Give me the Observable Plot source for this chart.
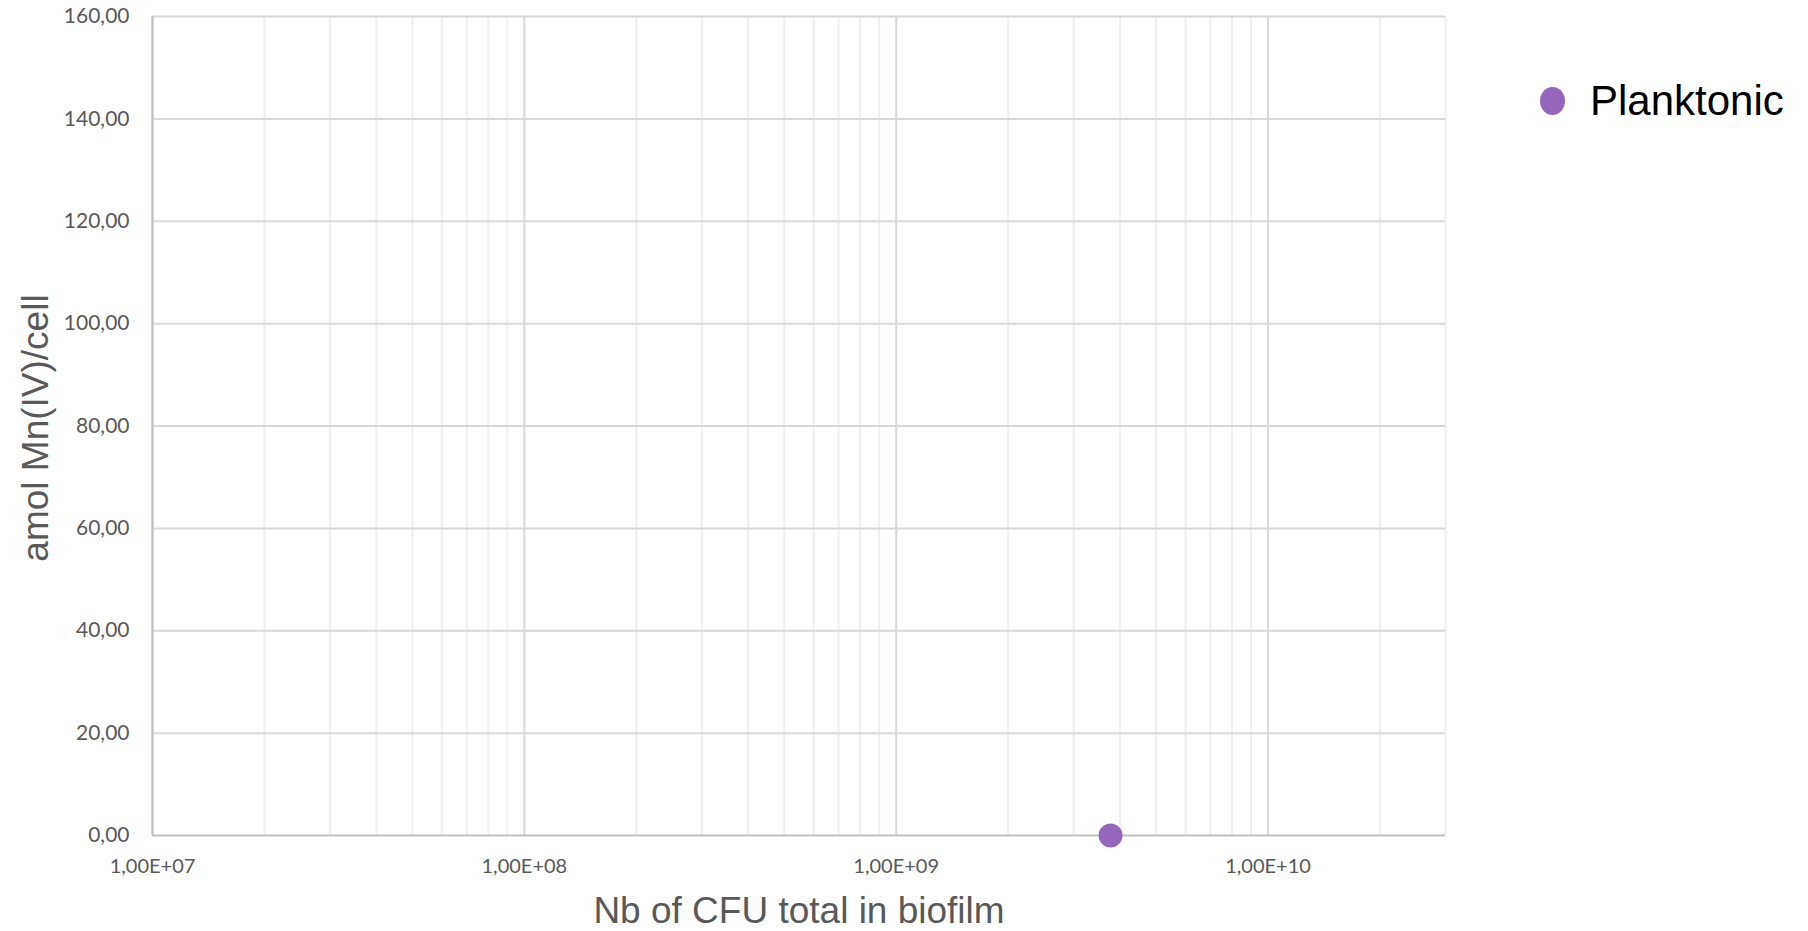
<!DOCTYPE html>
<html>
<head>
<meta charset="utf-8">
<script src="https://cdn.jsdelivr.net/npm/d3@7"></script>
<script src="https://cdn.jsdelivr.net/npm/@observablehq/plot@0.6"></script>
<style>
  body { margin: 0; background: #fff; }
  #chart { position: relative; width: 1808px; height: 931px; overflow: hidden; }
  #legend { position: absolute; left: 1540px; top: 80px; font-family: "Liberation Sans", Arial, sans-serif; font-size: 42px; line-height: 42px; color: #000; }
  #legend .swatch { position: absolute; left: 0; top: 7px; width: 25px; height: 28px; border-radius: 50%; background: #9467bd; }
  #legend .name { position: absolute; left: 50px; top: 0; white-space: nowrap; }
</style>
</head>
<body>
<div id="chart"></div>
<script>
// Axis set-up
const xDomain = [1e7, 3e10];
const yDomain = [0, 160];
const xDecadeTicks = [1e7, 1e8, 1e9, 1e10];
const yTicks = [0, 20, 40, 60, 80, 100, 120, 140, 160];
const xTitle = "Nb of CFU total in biofilm";
const yTitle = "amol Mn(IV)/cell";

// Series
const seriesName = "Planktonic";
const seriesColor = "#9467bd";
const cfuTotal = [3.77e9];
const mnPerCell = [0];

const points = cfuTotal.map((x, i) => ({x, y: mnPerCell[i]}));

// Minor log gridlines: 2..9 within each decade, up to the end of the domain
const xMinorTicks = xDecadeTicks
  .flatMap(d => [2, 3, 4, 5, 6, 7, 8, 9].map(k => k * d))
  .filter(v => v <= xDomain[1]);

// Comma decimal formats, e.g. "120,00" and "1,00E+08"
const fmtY = d => d3.format(".2f")(d).replace(".", ",");
const fmtX = d => {
  const [m, e] = d3.format(".2e")(d).split("e");
  const sign = e[0] === "-" ? "-" : "+";
  return m.replace(".", ",") + "E" + sign + e.replace(/^[+-]/, "").padStart(2, "0");
};

const grey = "#595959";

const chart = Plot.plot({
  width: 1808,
  height: 931,
  marginLeft: 152,
  marginRight: 363,
  marginTop: 16,
  marginBottom: 96,
  style: {background: "#fff", fontFamily: "Lato, sans-serif", overflow: "visible"},
  x: {type: "log", domain: xDomain},
  y: {domain: yDomain},
  marks: [
    Plot.ruleX(xMinorTicks, {stroke: "#efefef", strokeWidth: 2}),
    Plot.ruleX(xDecadeTicks, {stroke: "#d9d9d9", strokeWidth: 2}),
    Plot.ruleY(yTicks.filter(d => d > 0), {stroke: "#d9d9d9", strokeWidth: 2}),
    Plot.ruleX([xDomain[0]], {stroke: "#bfbfbf", strokeWidth: 2}),
    Plot.ruleY([0], {stroke: "#bfbfbf", strokeWidth: 2}),
    Plot.axisX({ticks: xDecadeTicks, tickSize: 0, tickPadding: 23, tickFormat: fmtX,
                fontSize: 20, fill: grey, label: null}),
    Plot.axisY({ticks: yTicks, tickSize: 0, tickPadding: 23, tickFormat: fmtY,
                fontSize: 21, fill: grey, label: null}),
    Plot.text([xTitle], {frameAnchor: "bottom", textAnchor: "middle", lineAnchor: "top", dy: 61,
                         fontSize: 37, fill: grey, fontFamily: "Liberation Sans, Arial, sans-serif"}),
    Plot.text([yTitle], {frameAnchor: "left", textAnchor: "middle", lineAnchor: "top", rotate: -90,
                         dx: -131, dy: 2,
                         fontSize: 37, fill: grey, fontFamily: "Liberation Sans, Arial, sans-serif"}),
    Plot.dot(points, {x: "x", y: "y", r: 12, fill: seriesColor, stroke: "none"})
  ]
});

const host = document.getElementById("chart");
host.appendChild(chart);

// Legend
const legend = document.createElement("div");
legend.id = "legend";
legend.innerHTML = `<span class="swatch"></span><span class="name"></span>`;
legend.querySelector(".swatch").style.background = seriesColor;
legend.querySelector(".name").textContent = seriesName;
host.appendChild(legend);
</script>
</body>
</html>
